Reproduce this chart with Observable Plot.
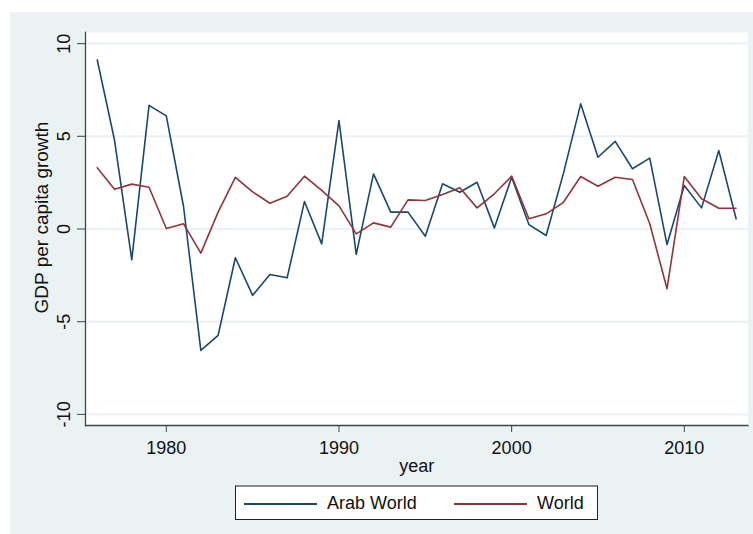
<!DOCTYPE html>
<html>
<head>
<meta charset="utf-8">
<script src="https://cdn.jsdelivr.net/npm/d3@7"></script>
<script src="https://cdn.jsdelivr.net/npm/@observablehq/plot@0.6"></script>
<style>
  html, body { margin: 0; padding: 0; background: #ffffff; }
  #wrap { position: relative; width: 753px; height: 534px; overflow: hidden; font-family: "Liberation Sans", Arial, sans-serif; }
  #chart { position: absolute; left: 10px; top: 12px; }
  #chart svg { background: #EAF2F3; display: block; }
  #legend { position: absolute; left: 235px; top: 485px; width: 361px; height: 32px; background: #ffffff;
            border: 1px solid #222; border-top: 2px solid #8a8a8a; box-sizing: content-box; }
  .sw { position: absolute; top: 16px; height: 0; border-top: 2px solid; }
  .lt { position: absolute; top: 5px; font-size: 18px; line-height: 22px; color: #111; white-space: nowrap; }
</style>
</head>
<body>
<div id="wrap">
  <div id="chart"></div>
  <div id="legend"></div>
</div>
<script>
const years = [1976,1977,1978,1979,1980,1981,1982,1983,1984,1985,1986,1987,1988,1989,1990,1991,1992,1993,1994,1995,
               1996,1997,1998,1999,2000,2001,2002,2003,2004,2005,2006,2007,2008,2009,2010,2011,2012,2013];
const arabWorld = [9.12,4.8,-1.66,6.67,6.10,1.2,-6.55,-5.74,-1.55,-3.58,-2.45,-2.63,1.48,-0.8,5.85,-1.37,2.97,0.91,0.91,-0.39,
                   2.44,1.98,2.52,0.06,2.79,0.24,-0.35,3.0,6.75,3.87,4.73,3.25,3.82,-0.84,2.35,1.14,4.23,0.55];
const world = [3.30,2.15,2.42,2.25,0.03,0.28,-1.30,0.91,2.79,2.0,1.39,1.77,2.85,2.08,1.25,-0.26,0.33,0.10,1.57,1.54,
               1.86,2.22,1.14,1.90,2.85,0.55,0.82,1.44,2.83,2.31,2.79,2.67,0.28,-3.22,2.83,1.63,1.12,1.12];
const seriesNames = ["Arab World", "World"];
const seriesColors = ["#1a476f", "#90353b"];
const xTicks = [1980, 1990, 2000, 2010];
const yTicks = [-10, -5, 0, 5, 10];
const xLabel = "year";
const yLabel = "GDP per capita growth";

const rows = [];
years.forEach((y, i) => {
  rows.push({year: y, value: arabWorld[i], series: seriesNames[0]});
  rows.push({year: y, value: world[i], series: seriesNames[1]});
});

const font = "'Liberation Sans', Arial, sans-serif";
const plot = Plot.plot({
  width: 743,
  height: 522,
  marginLeft: 75,
  marginRight: 5.5,
  marginTop: 20,
  marginBottom: 109,
  style: {fontFamily: font, fontSize: "18px", color: "#111", background: "#EAF2F3"},
  x: {domain: [1975.32, 2013.69], axis: null},
  y: {domain: [-10.6, 10.6], axis: null},
  color: {domain: seriesNames, range: seriesColors},
  marks: [
    Plot.frame({fill: "white", stroke: null}),
    Plot.gridY(yTicks, {stroke: "#EAF2F3", strokeOpacity: 1, strokeWidth: 2}),
    Plot.axisY(yTicks, {tickSize: 8, tickFormat: () => "", stroke: "#444", strokeWidth: 1, label: null}),
    Plot.text(yTicks, {frameAnchor: "left", y: d => d, text: d => String(d), rotate: -90, dx: -21.5,
                       textAnchor: "middle", lineAnchor: "middle", fontSize: 18, fill: "#111"}),
    Plot.axisX(xTicks, {tickSize: 7, tickPadding: 8.5, tickFormat: d => String(d), fontSize: 18, stroke: "#444", fill: "#111", label: null}),
    Plot.frame({anchor: "left", stroke: "#444", strokeWidth: 1.3}),
    Plot.frame({anchor: "bottom", stroke: "#444", strokeWidth: 1.3}),
    Plot.lineY(rows, {x: "year", y: "value", z: "series", stroke: "series", strokeWidth: 1.6}),
    Plot.text([xLabel], {frameAnchor: "bottom", dy: 41, text: d => d, lineAnchor: "middle", fontSize: 18, fill: "#111"}),
    Plot.text([yLabel], {frameAnchor: "left", dx: -43.5, dy: -11.5, text: d => d, rotate: -90,
                         textAnchor: "middle", lineAnchor: "middle", fontSize: 19, fill: "#111"})
  ]
});
document.getElementById("chart").appendChild(plot);

// legend (positions relative to legend box)
const legend = document.getElementById("legend");
const items = [
  {name: seriesNames[0], color: seriesColors[0], sx: 8, sw: 73, tx: 91},
  {name: seriesNames[1], color: seriesColors[1], sx: 218, sw: 73, tx: 301}
];
items.forEach(it => {
  const s = document.createElement("div");
  s.className = "sw";
  s.style.left = it.sx + "px";
  s.style.width = it.sw + "px";
  s.style.borderTopColor = it.color;
  legend.appendChild(s);
  const t = document.createElement("div");
  t.className = "lt";
  t.style.left = it.tx + "px";
  t.textContent = it.name;
  legend.appendChild(t);
});
</script>
</body>
</html>
